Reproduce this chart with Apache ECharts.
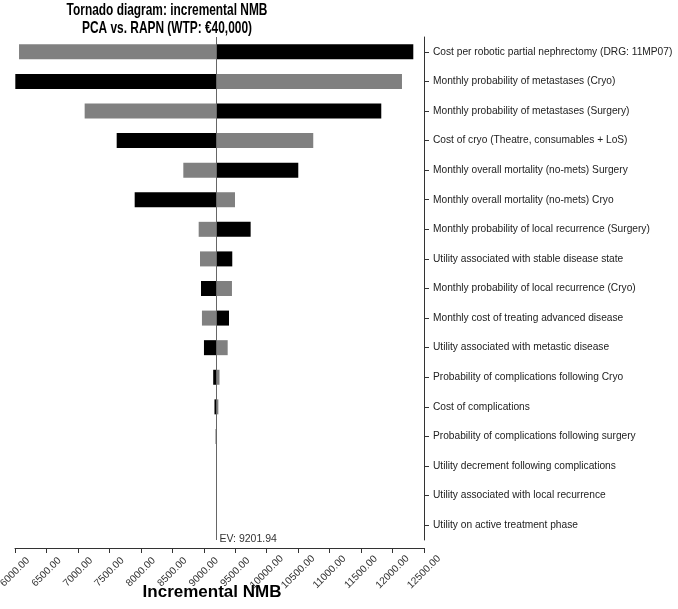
<!DOCTYPE html>
<html>
<head>
<meta charset="utf-8">
<script src="https://cdn.jsdelivr.net/npm/echarts@6/dist/echarts.min.js"></script>
<style>
  html, body { margin: 0; padding: 0; background: #fff; }
  #chart { width: 678px; height: 609px; }
</style>
</head>
<body>
<div id="chart"></div>
<script>
// tornado chart: incremental NMB, PCA vs RAPN
var ev = 9201.94;

var params = [
  'Cost per robotic partial nephrectomy (DRG: 11MP07)',
  'Monthly probability of metastases (Cryo)',
  'Monthly probability of metastases (Surgery)',
  'Cost of cryo (Theatre, consumables + LoS)',
  'Monthly overall mortality (no-mets) Surgery',
  'Monthly overall mortality (no-mets) Cryo',
  'Monthly probability of local recurrence (Surgery)',
  'Utility associated with stable disease state',
  'Monthly probability of local recurrence (Cryo)',
  'Monthly cost of treating advanced disease',
  'Utility associated with metastic disease',
  'Probability of complications following Cryo',
  'Cost of complications',
  'Probability of complications following surgery',
  'Utility decrement following complications',
  'Utility associated with local recurrence',
  'Utility on active treatment phase'
];

// NMB at the end of each bar drawn in grey / in black
var greyEnd = [6064, 12150, 7107, 10740, 8675, 9496, 8919, 8940, 9448, 8971, 9380, 9250, 9232, 9208, 9201.94, 9201.94, 9201.94];
var blackEnd = [12330, 6005, 11821, 7616, 10502, 7902, 9745, 9453, 8956, 9401, 9003, 9150, 9170, 9190, 9201.94, 9201.94, 9201.94];

var xTicks = { min: 6000, max: 12500, step: 500 };

var font = 'Arial, "Liberation Sans", sans-serif';

function baseOf(arr) {
  return arr.map(function (v) { return Math.min(v, ev); });
}
function lenOf(arr) {
  return arr.map(function (v) { return Math.abs(v - ev); });
}

var chart = echarts.init(document.getElementById('chart'), null, { renderer: 'canvas' });

chart.setOption({
  backgroundColor: '#fff',
  animation: false,
  grid: { left: 15, right: 254, top: 37, bottom: 69, containLabel: false, outerBoundsMode: 'none' },
  xAxis: {
    type: 'value',
    min: xTicks.min,
    max: xTicks.max,
    interval: xTicks.step,
    offset: 8,
    name: 'Incremental NMB',
    nameLocation: 'middle',
    nameGap: 36,
    nameMoveOverlap: false,
    nameTextStyle: { fontFamily: font, fontSize: 17, fontWeight: 'bold', color: '#000', padding: [0, 15, 0, 0] },
    axisLine: { show: true, lineStyle: { color: '#333', width: 1 } },
    axisTick: { show: true, length: 5, lineStyle: { color: '#333' } },
    axisLabel: {
      rotate: 45,
      align: 'center',
      verticalAlign: 'middle',
      margin: 24,
      fontFamily: font,
      fontSize: 10.2,
      color: '#333',
      formatter: function (v) { return v.toFixed(2); }
    },
    splitLine: { show: false }
  },
  yAxis: {
    type: 'category',
    data: params,
    inverse: true,
    position: 'right',
    axisLine: { show: true, lineStyle: { color: '#333', width: 1 } },
    axisTick: { show: true, alignWithLabel: true, length: 5, lineStyle: { color: '#333' } },
    axisLabel: { fontFamily: font, fontSize: 10.2, color: '#222', margin: 9 },
    splitLine: { show: false }
  },
  series: [
    {
      type: 'bar', stack: 'grey', data: baseOf(greyEnd), barWidth: 15, barGap: '-100%',
      itemStyle: { color: 'transparent' }, silent: true
    },
    {
      type: 'bar', stack: 'grey', data: lenOf(greyEnd), barWidth: 15, barGap: '-100%',
      itemStyle: { color: '#808080' }
    },
    {
      type: 'bar', stack: 'black', data: baseOf(blackEnd), barWidth: 15, barGap: '-100%',
      itemStyle: { color: 'transparent' }, silent: true
    },
    {
      type: 'bar', stack: 'black', data: lenOf(blackEnd), barWidth: 15, barGap: '-100%',
      itemStyle: { color: '#000' },
      markLine: {
        silent: true,
        symbol: 'none',
        z: 10,
        label: { show: false },
        lineStyle: { color: '#666', width: 1, type: 'solid' },
        data: [{ xAxis: ev }]
      }
    }
  ],
  graphic: [
    {
      id: 'title',
      type: 'text',
      x: 167,
      y: 1,
      scaleX: 0.7,
      style: {
        text: 'Tornado diagram: incremental NMB\nPCA vs. RAPN (WTP: €40,000)',
        align: 'center',
        verticalAlign: 'top',
        font: 'bold 17px Arial, "Liberation Sans", sans-serif',
        lineHeight: 18,
        fill: '#000'
      }
    }
  ]
});

var evX = chart.convertToPixel({ xAxisIndex: 0 }, ev);
chart.setOption({
  graphic: [
    {
      id: 'evLabel',
      type: 'text',
      x: evX + 3,
      y: 539,
      style: {
        text: 'EV: ' + ev.toFixed(2),
        align: 'left',
        verticalAlign: 'middle',
        font: '10.5px Arial, "Liberation Sans", sans-serif',
        fill: '#333'
      }
    }
  ]
});
</script>
</body>
</html>
